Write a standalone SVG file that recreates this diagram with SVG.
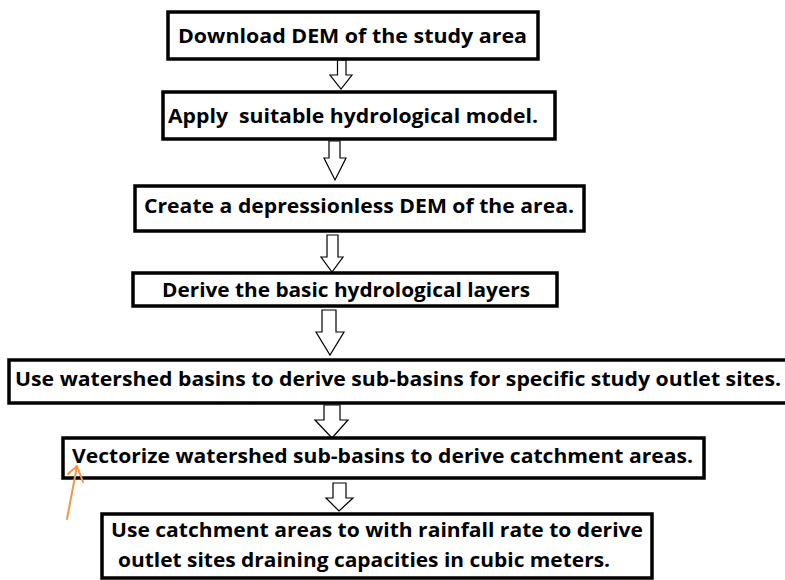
<svg xmlns="http://www.w3.org/2000/svg" width="785" height="580" viewBox="0 0 785 580">
<defs>
<style>
.box{fill:#fff;stroke:#000;stroke-width:3.5}
.t{font-family:"Open Sans","Liberation Sans",sans-serif;font-weight:700;font-size:20px;fill:#000}
.arr{fill:#fff;stroke:#000;stroke-width:1.2;stroke-linejoin:miter}
.note{fill:none;stroke:#F79646;stroke-width:2;stroke-linecap:round;stroke-linejoin:round}
</style>
</defs>
<rect width="785" height="580" fill="#fff"/>
<g id="connectors">
<path class="arr" d="M337.5,60 H346 V75 H352 L341,89 L330,75 H337.5 Z"/>
<path class="arr" d="M329,141 H340 V158 H346 L335,180 L324,158 H329 Z"/>
<path class="arr" d="M327,235 H338 V257 H343 L332,272 L321,257 H327 Z"/>
<path class="arr" d="M322,310 H336 V332 H344 L330,355 L316,332 H322 Z"/>
<path class="arr" d="M324,405 H340 V420 H348 L332,438 L315,420 H324 Z"/>
<path class="arr" d="M333,483 H346 V498 H353 L339,511 L326,498 H333 Z"/>
</g>
<g id="n1">
<rect class="box" x="168" y="12" width="370" height="47"/>
<text class="t" x="178" y="43" textLength="349" lengthAdjust="spacingAndGlyphs">Download DEM of the study area</text>
</g>
<g id="n2">
<rect class="box" x="163" y="92" width="392" height="47"/>
<text class="t" x="168" y="123" textLength="370" lengthAdjust="spacingAndGlyphs" xml:space="preserve">Apply  suitable hydrological model.</text>
</g>
<g id="n3">
<rect class="box" x="135" y="186" width="449" height="45"/>
<text class="t" x="144" y="213" textLength="430" lengthAdjust="spacingAndGlyphs">Create a depressionless DEM of the area.</text>
</g>
<g id="n4">
<rect class="box" x="133" y="273" width="424" height="33"/>
<text class="t" x="162" y="297" textLength="368" lengthAdjust="spacingAndGlyphs">Derive the basic hydrological layers</text>
</g>
<g id="n5">
<rect class="box" x="9" y="360" width="778" height="43"/>
<text class="t" x="15" y="386" textLength="766" lengthAdjust="spacingAndGlyphs">Use watershed basins to derive sub-basins for specific study outlet sites.</text>
</g>
<g id="n6">
<rect class="box" x="63" y="438" width="641" height="40"/>
<text class="t" x="72" y="463" textLength="621" lengthAdjust="spacingAndGlyphs">Vectorize watershed sub-basins to derive catchment areas.</text>
</g>
<g id="n7">
<rect class="box" x="102" y="514" width="550" height="64"/>
<text class="t" x="111" y="537" textLength="532" lengthAdjust="spacingAndGlyphs">Use catchment areas to with rainfall rate to derive</text>
<text class="t" x="118" y="567" textLength="492" lengthAdjust="spacingAndGlyphs">outlet sites draining capacities in cubic meters.</text>
</g>
<g id="annotation">
<path class="note" d="M67,519 L77,466"/>
<path class="note" d="M68,474 L77,466 L83,482"/>
</g>
</svg>
